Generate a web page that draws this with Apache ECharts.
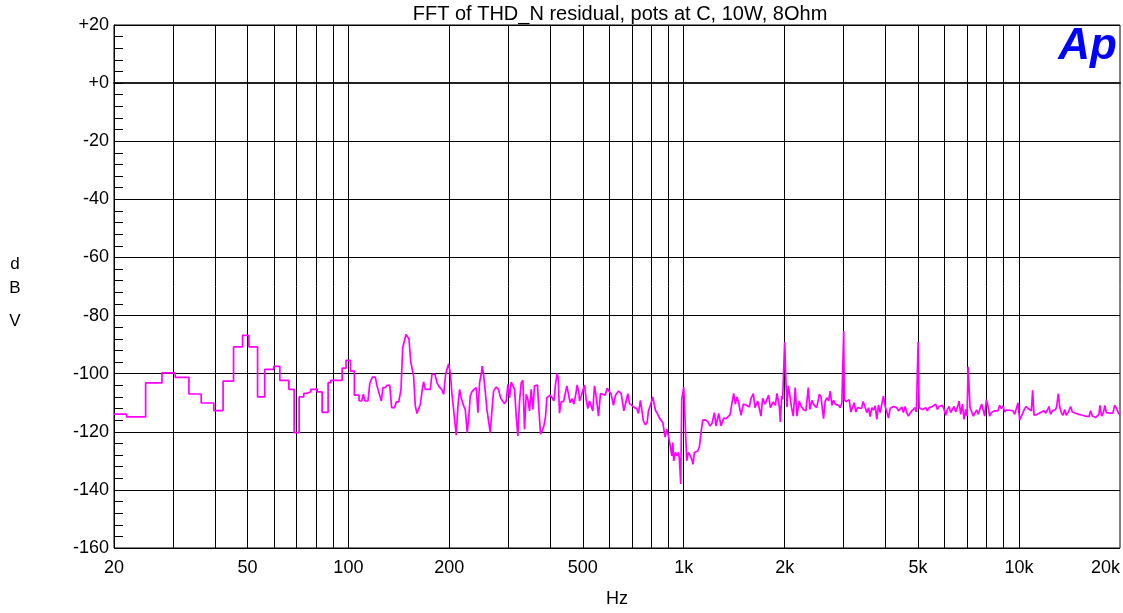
<!DOCTYPE html>
<html><head><meta charset="utf-8">
<script src="https://cdn.jsdelivr.net/npm/echarts@6/dist/echarts.min.js"></script>
<style>html,body{margin:0;padding:0;background:#fff}#c{width:1123px;height:613px}</style>
</head><body><div id="c"></div>
<script>
// ---- data (Hz, dBV) ----
const lowFreq = [20, 21.8, 24.85, 27.8, 30.45, 33.45, 36.4, 39.7, 42.3, 45.45, 48.35, 50.5, 53.6, 56.3, 59.9, 62.45, 66.45, 68.9, 71.3, 73.6, 75.0, 77.2, 79.4, 80.7, 83.5, 87.0, 88.6, 95.8, 98.4, 101.4, 104.2, 107.6];
const lowDb = [-113.9, -114.9, -103.2, -99.7, -101.3, -107.0, -110.1, -112.7, -102.6, -90.8, -86.8, -90.8, -108.0, -98.5, -97.5, -102.3, -105.4, -120.3, -108.0, -106.8, -106.3, -105.4, -105.2, -106.3, -113.3, -103.1, -102.3, -98.1, -95.4, -99.1, -107.4, -109.4];

const highFreq = [107.6,109.6,110.8,112.1,114.4,115.8,117.1,117.9,120.3,121.7,123.1,125.4,126.8,128.9,130.4,132.8,134.6,137.4,139.0,141.3,143.5,145.2,146.5,148.5,149.9,151.6,153.4,155.1,156.5,158.3,160.2,162.0,163.9,166.1,167.6,169.6,172.7,175.5,177.5,181.2,183.7,185.8,188.0,190.1,192.3,194.1,195.0,196.8,199.0,201.3,203.6,206.0,209.7,212.2,214.6,217.1,220.6,223.1,226.2,228.3,230.9,233.6,236.8,240.6,243.4,246.2,249.0,250.7,253.0,255.9,258.9,264.8,268.5,271.0,276.0,280.4,284.3,288.9,292.3,295.6,299.0,302.5,305.9,309.4,313.0,316.6,320.2,323.9,327.7,331.4,335.2,339.1,342.9,346.9,350.9,354.9,359.0,363.1,366.4,369.0,374.1,378.4,382.8,387.1,390.7,394.3,399.8,405.3,410.0,414.6,419.4,422.3,426.1,431.1,438.1,443.1,448.2,453.4,458.5,464.9,470.2,475.6,481.1,486.6,
489.0,494.7,506.1,511.9,517.6,523.6,529.7,535.6,541.8,548.0,556.9,564.7,573.7,583.1,591.1,598.0,607.6,617.5,626.0,639.0,650.8,662.9,673.5,681.3,689.1,700.3,713.2,724.4,732.8,742.8,748.0,758.4,768.8,777.7,784.9,795.6,808.5,823.4,836.6,846.3,856.1,865.9,880.0,890.2,902.4,910.8,921.3,927.5,933.9,944.7,955.2,964.1,970.8,979.7,986.5,1000,1011.6,1020.9,1032.5,1046.9,1056.6,1066.2,1076.0,1088.5,1100.9,1113.6,1126.3,1139.3,1160.2,1179.1,1198.0,1214.7,1234.4,1248.4,1271.5,1292.0,1316.0,1337.1,1352.5,1374.2,1393.3,1409.4,1425.4,1441.9,1458.3,1482.0,1505.8,1533.8,1551.2,1569.1,1587.3,1612.7,1631.4,1661.4,1680.6,1700.0,1719.3,1747.2,1767.1,1791.7,1812.4,1833.0,1850.0,1875.7,1897.0,1927.8,1941.2,1958.7,1972.3,2000,2013,2032,2050,2074,2097,2121,2151,2176,2211,2236,2273,2314,2352,2378,2412,2450,2490,2524,
2536,2566,2612,2642,2679,2704,2735,2766,2798,2830,2862,2895,2929,2962,3000,3011,3045,3080,3115,3151,3187,3224,3261,3298,3336,3390,3429,3468,3516,3557,3597,3639,3681,3723,3766,3808,3852,3897,3941,3987,4033,4079,4126,4173,4221,4270,4319,4369,4419,4469,4521,4573,4625,4679,4733,4786,4842,4897,4942,5000,5035,5092,5151,5210,5270,5330,5392,5453,5516,5580,5643,5708,5774,5840,5907,5976,6044,6114,6185,6255,6328,6401,6473,6548,6624,6699,6777,6855,6934,6998,7047,7111,7144,7226,7308,7393,7478,7563,7650,7739,7826,7898,7990,8081,8174,8268,8362,8459,8557,8654,8754,8855,8956,9060,9165,9269,9376,9486,9594,9705,9817,9929,10044,10160,10275,10394,10515,10634,10757,10881,10979,11080,11206,11336,11467,11597,11731,11867,12002,12141,12282,12421,12565,12710,12855,12944,13094,13213,13366,13521,13674,13833,13993,14152,14250,14415,14582,14748,14918,15088,15263,15439,15614,15795,15978,16159,16346,16535,16723,16916,17112,17306,17426,17628,17828,18034,18197,18408,18621,18832,19050,19271,19490,19716,19944,20000];

const highDb = [-109.4,-109.4,-107.1,-109.4,-109.4,-103.4,-103.1,-101.2,-101.2,-104.2,-104.8,-109.4,-104.8,-104.8,-104.0,-103.9,-111.7,-111.7,-109.7,-109.7,-105.4,-91.1,-91.1,-86.5,-87.1,-88.0,-95.9,-96.0,-100.8,-111.1,-113.7,-113.7,-110.5,-105.4,-102.8,-105.4,-105.4,-105.4,-100.2,-100.2,-103.1,-104.2,-104.2,-105.6,-107.1,-107.1,-100.2,-98.5,-96.6,-99.7,-106.8,-106.8,-121.2,-111.1,-105.4,-108.5,-111.1,-112.3,-120.3,-115.7,-107.7,-106.2,-105.4,-104.8,-113.4,-103.1,-100.2,-97.4,-100.2,-106.0,-112.3,-120.3,-111.5,-106.0,-104.6,-105.4,-108.3,-109.6,-110.3,-109.4,-103.7,-108.3,-102.9,-102.3,-105.4,-114.6,-121.4,-109.4,-103.1,-102.3,-119.1,-107.1,-108.8,-112.8,-105.4,-112.3,-104.2,-103.9,-103.9,-110.5,-120.8,-119.7,-118.0,-114.9,-108.3,-108.8,-107.4,-108.3,-109.4,-103.7,-99.9,-101.4,-113.6,-109.6,-109.6,-109.6,-104.2,-103.9,-110.0,-108.6,-110.5,-107.7,-103.9,-106.5,
-109.4,-107.7,-103.9,-108.8,-112.0,-109.4,-108.8,-112.8,-104.2,-107.7,-114.6,-106.8,-107.1,-107.4,-105.0,-105.2,-107.1,-110.9,-107.4,-106.0,-106.8,-112.8,-109.4,-106.9,-110.3,-110.9,-111.7,-112.0,-113.7,-109.2,-109.0,-116.3,-117.6,-116.8,-112.8,-110.9,-108.0,-112.6,-114.0,-115.3,-114.8,-116.8,-121.8,-119.1,-122.0,-124.6,-128.3,-123.7,-130.0,-127.1,-128.3,-127.1,-129.4,-138.0,-108.8,-104.6,-104.8,-130.0,-127.1,-128.3,-129.4,-131.2,-127.1,-127.7,-126.6,-125.2,-120.3,-116.0,-115.9,-116.5,-118.0,-117.1,-113.4,-118.0,-113.7,-118.0,-115.3,-115.5,-116.0,-114.2,-110.0,-106.8,-110.5,-108.0,-110.0,-114.3,-110.5,-110.8,-110.2,-111.5,-108.5,-106.9,-111.7,-109.4,-108.8,-114.6,-108.5,-110.5,-110.9,-107.4,-111.7,-112.0,-109.7,-110.9,-106.8,-111.3,-116.6,-107.7,-108.8,-89.1,-99.7,-111.5,-104.2,-107.7,-111.7,-114.6,-104.8,-114.6,-109.4,-111.1,-112.3,-112.8,-104.8,-112.3,-109.2,-110.9,-111.7,-108.6,
-107.1,-107.9,-115.5,-109.4,-108.3,-109.4,-106.0,-110.9,-109.2,-110.5,-111.1,-110.9,-111.7,-110.0,-85.3,-108.8,-109.6,-109.4,-109.0,-113.2,-111.7,-110.0,-113.2,-111.7,-111.7,-112.0,-109.6,-111.3,-113.4,-111.7,-114.8,-111.7,-112.6,-111.1,-115.7,-110.8,-113.4,-110.5,-107.7,-111.1,-111.7,-115.3,-112.0,-112.3,-111.3,-110.9,-111.7,-112.8,-112.3,-111.5,-113.4,-111.3,-113.4,-114.6,-113.6,-112.8,-113.4,-111.7,-113.2,-89.1,-111.7,-111.3,-112.3,-112.8,-111.7,-112.8,-111.7,-111.7,-111.3,-111.3,-110.5,-112.3,-111.3,-111.7,-110.9,-112.3,-114.3,-112.3,-111.3,-113.4,-112.3,-111.3,-113.2,-111.7,-109.4,-114.0,-110.5,-115.7,-112.3,-114.6,-97.6,-97.6,-111.7,-112.3,-114.6,-113.4,-112.5,-114.0,-112.0,-110.5,-110.0,-114.6,-109.0,-111.3,-114.6,-113.4,-113.2,-112.8,-113.2,-112.8,-110.9,-112.0,-111.1,-113.2,-112.5,-112.8,-112.6,-112.8,-112.8,-114.0,-113.4,-110.0,-115.9,-114.6,-113.4,-112.0,-111.3,-112.0,-112.3,-112.8,-105.7,-114.3,-114.3,-114.0,-114.0,-113.4,-113.6,-112.8,-113.6,-112.6,-111.3,-114.0,-112.8,-113.2,-112.3,-111.3,-106.9,-111.3,-113.4,-114.3,-112.3,-114.3,-113.4,-112.8,-111.3,-113.2,-113.4,-113.6,-113.7,-114.0,-114.0,-114.3,-114.3,-114.6,-115.1,-114.8,-112.8,-114.6,-114.8,-115.1,-115.7,-114.0,-110.9,-114.6,-113.6,-110.9,-113.4,-113.2,-113.6,-113.2,-113.6,-110.9,-111.7,-113.2,-113.6,-114.3];

const xLabelValues = [20, 50, 100, 200, 500, 1000, 2000, 5000, 10000, 20000];
const gridFreqs = [30,40,50,60,70,80,90,100,200,300,400,500,600,700,800,900,1000,2000,3000,4000,5000,6000,7000,8000,9000,10000];
const yMin = -160, yMax = 20, yStep = 20;
const titleText = 'FFT of THD_N residual, pots at C, 10W, 8Ohm';
const xName = 'Hz';
const yNameLetters = ['d', 'B', 'V'];
const logoText = 'Ap';

// ---- chart ----
const FONT = "'Liberation Sans', Arial, Helvetica, sans-serif";
const chart = echarts.init(document.getElementById('c'), null, {renderer: 'canvas'});
const zip = (a, b) => a.map((v, i) => [v, b[i]]);
const fmtHz = v => v >= 1000 ? (v / 1000) + 'k' : String(v);
const traceStyle = {color: '#ff00ff', width: 1.7};
const yNameY = [264, 288, 321];

chart.setOption({
  animation: false,
  backgroundColor: '#fff',
  grid: {left: 114, top: 25, width: 1007, height: 524, show: true, borderColor: '#000', borderWidth: 1},
  xAxis: {
    type: 'log', logBase: 10, min: 20, max: 20000,
    name: xName, nameLocation: 'middle', nameGap: 42,
    nameTextStyle: {fontSize: 18, color: '#000', fontFamily: FONT},
    axisLine: {show: true, lineStyle: {color: '#222', width: 2}},
    axisTick: {show: false},
    minorTick: {show: false},
    splitLine: {show: false},
    minorSplitLine: {show: false},
    axisLabel: {customValues: xLabelValues, formatter: fmtHz, margin: 11, fontSize: 18,
      color: '#000', fontFamily: FONT, alignMaxLabel: 'right', showMinLabel: true, showMaxLabel: true}
  },
  yAxis: {
    type: 'value', min: yMin, max: yMax, interval: yStep,
    axisLine: {show: true, lineStyle: {color: '#000', width: 1}},
    axisTick: {show: true, inside: true, length: 9, lineStyle: {color: '#000'}},
    minorTick: {show: true, splitNumber: 5, length: 9, lineStyle: {color: '#000', width: 1}},
    splitLine: {show: true, lineStyle: {color: '#000', width: 1}},
    axisLabel: {formatter: v => v >= 0 ? '+' + v : String(v), fontSize: 18, color: '#000',
      margin: 5, fontFamily: FONT}
  },
  series: [
    {type: 'line', data: zip(lowFreq, lowDb), step: 'end', showSymbol: false, silent: true,
     lineStyle: traceStyle, z: 5},
    {type: 'line', data: zip(highFreq, highDb), showSymbol: false, silent: true,
     lineStyle: traceStyle, z: 5,
     markLine: {silent: true, symbol: 'none', z: 1, animation: false, label: {show: false},
       emphasis: {disabled: true},
       lineStyle: {color: '#000', width: 1, type: 'solid'},
       data: gridFreqs.map(f => ({xAxis: f}))}}
  ],
  graphic: [
    {type: 'text', x: 620, y: 14, style: {text: titleText, font: '20px ' + FONT, fill: '#000',
      align: 'center', verticalAlign: 'middle'}},
    ...yNameLetters.map((t, i) => ({type: 'text', x: 15, y: yNameY[i], style: {text: t,
      font: '17px ' + FONT, fill: '#000', align: 'center', verticalAlign: 'middle'}})),
    {type: 'text', x: 1117, y: 47, style: {text: logoText, font: 'italic bold 44px ' + FONT,
      fill: '#0000ff', align: 'right', verticalAlign: 'middle'}}
  ]
});
</script>
</body></html>
